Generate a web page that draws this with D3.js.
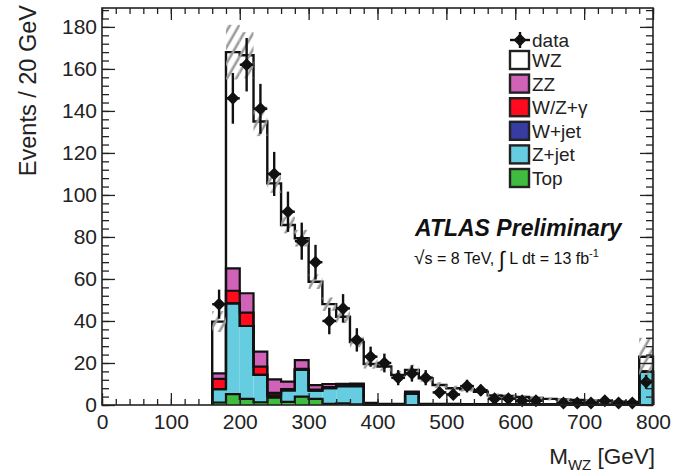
<!DOCTYPE html>
<html><head><meta charset="utf-8">
<script src="https://cdn.jsdelivr.net/npm/d3@7"></script>
<style>
body{margin:0;background:#fff;}
svg{display:block;font-family:"Liberation Sans",Arial,Helvetica,sans-serif;}
</style>
</head><body>
<svg id="c" width="698" height="476"></svg>
<script>
// ---- data (bins of 20 GeV, lower edges 160 ... 780; last bin includes overflow) ----
const binLow = [160,180,200,220,240,260,280,300,320,340,360,380,400,420,440,460,
                480,500,520,540,560,580,600,620,640,660,680,700,720,740,760,780];
const binWidth = 20;
const dataCounts = [48,146,162,141,110,92,78,68,40,46,31,23,20,13,15,13,
                    6,5,9,7,3,3,2,2,0,1,1,1,2,1,1,11];
const topBkg  = [1.2,5.2,2.9,1.3,3.5,1.5,4.0,2.9,0.5,0.8,0.3,0,0,0,0,0,
                 0,0,0,0,0,0,0,0,0,0,0,0,0,0,0,0];
const zjet    = [6.4,43.2,34.7,13.0,1.0,5.5,12.7,3.9,7.5,8.0,8.5,0.5,0.3,0.3,5.4,0.2,
                 0.3,0.3,0.2,0.2,0.2,0.2,0.2,0.2,0.2,0.2,0.2,0.1,0.1,0.1,0.1,15.9];
const wjet    = [0,0,0,0,0,0,0,0,0,1.0,1.0,0,0,0,0,0,
                 0,0,0,0,0,0,0,0,0,0,0,0,0,0,0,0];
const wzgamma = [4.8,6.0,6.4,4.0,1.3,0.6,0.5,0.5,0.5,0,0,0,0,0,0,0,
                 0,0,0,0,0,0,0,0,0,0,0,0,0,0,0,0];
const zz      = [2.7,10.6,9.2,7.1,6.4,3.5,4.2,2.2,1.5,0.3,0.4,0.5,0.3,0.3,1.0,0.3,
                 0.2,0.2,0.2,0.2,0.2,0.1,0.1,0.1,0.1,0.1,0.1,0.1,0.1,0.1,0.1,0];
const wz      = [24.6,103,113.3,109.6,93.3,74.6,58.0,49.2,38.0,31.9,19.8,18.5,17.7,13.7,10.3,12.2,
                 9.0,7.5,7.1,5.9,4.2,4.0,3.5,3.0,2.6,2.3,2.1,1.9,1.7,1.5,1.3,7.1];
const sysUnc  = [5,13,11,7,4.5,4,4,3.5,3.2,3,2.5,2.2,2,1.8,2.5,1.6,
                 1.4,1.2,1.1,1,0.9,0.9,0.8,0.8,0.7,0.7,0.6,0.6,0.6,0.5,0.5,9];
const seriesKeys   = ["Top","Zjet","Wjet","WZgamma","ZZ","WZ"];
const seriesColors = ["#3fbb3f","#66cde0","#373ca3","#ff0a1e","#d062b8","#ffffff"];
const legendLabels = ["data","WZ","ZZ","W/Z+\u03b3","W+jet","Z+jet","Top"];
const legendKeys   = [null,"WZ","ZZ","WZgamma","Wjet","Zjet","Top"];
const xTicks = [0,100,200,300,400,500,600,700,800];
const yTicks = [0,20,40,60,80,100,120,140,160,180];

// ---- build table ----
const table = binLow.map((b,i)=>({lo:b, Top:topBkg[i], Zjet:zjet[i], Wjet:wjet[i],
  WZgamma:wzgamma[i], ZZ:zz[i], WZ:wz[i], unc:sysUnc[i], n:dataCounts[i]}));
const color = d3.scaleOrdinal().domain(seriesKeys).range(seriesColors);

const svg = d3.select("#c");
const L=102, R=653, T=8, B=405;
const x = d3.scaleLinear().domain([0,800]).range([L,R]);
const y = d3.scaleLinear().domain([0,189]).range([B,T]);

svg.append("defs").append("pattern")
  .attr("id","hatch").attr("patternUnits","userSpaceOnUse")
  .attr("width",8).attr("height",8).attr("patternTransform","rotate(30)")
  .append("rect").attr("x",2.5).attr("y",0).attr("width",2.6).attr("height",8)
  .attr("fill","#9c9c9c");

const stack = d3.stack().keys(seriesKeys)(table);

// fills
const gFill = svg.append("g");
stack.forEach(layer=>{
  gFill.selectAll(null).data(layer).join("rect")
    .attr("x",d=>x(d.data.lo)).attr("width",d=>x(d.data.lo+binWidth)-x(d.data.lo))
    .attr("y",d=>y(d[1])).attr("height",d=>Math.max(0,y(d[0])-y(d[1])))
    .attr("fill",color(layer.key));
});
// outlines (step histograms)
function stepPath(layer){
  let p = `M${x(binLow[0])},${y(0)}`;
  layer.forEach(d=>{
    p += `L${x(d.data.lo)},${y(d[1])}L${x(d.data.lo+binWidth)},${y(d[1])}`;
  });
  p += `L${x(binLow[binLow.length-1]+binWidth)},${y(0)}`;
  return p;
}
stack.forEach((layer,i)=>{
  svg.append("path").attr("d",stepPath(layer)).attr("fill","none")
    .attr("stroke","#111").attr("stroke-width", layer.key==="WZ"?2.4:2.2)
    .attr("stroke-linejoin","miter");
});

// hatched uncertainty band around the total
const topLayer = stack[stack.length-1];
svg.append("g").selectAll("rect").data(topLayer).join("rect")
  .attr("x",d=>x(d.data.lo)).attr("width",d=>x(d.data.lo+binWidth)-x(d.data.lo))
  .attr("y",d=>y(d[1]+d.data.unc))
  .attr("height",d=>y(Math.max(0,d[1]-d.data.unc))-y(d[1]+d.data.unc))
  .attr("fill","url(#hatch)");

// data points
const gData = svg.append("g");
const pts = table.filter(d=>d.n>0);
gData.selectAll("line.h").data(pts).join("line")
  .attr("x1",d=>x(d.lo)).attr("x2",d=>x(d.lo+binWidth))
  .attr("y1",d=>y(d.n)).attr("y2",d=>y(d.n))
  .attr("stroke","#111").attr("stroke-width",2.4);
gData.selectAll("line.v").data(pts).join("line")
  .attr("x1",d=>x(d.lo+binWidth/2)).attr("x2",d=>x(d.lo+binWidth/2))
  .attr("y1",d=>y(d.n+Math.sqrt(d.n))).attr("y2",d=>y(Math.max(0,d.n-Math.sqrt(d.n))))
  .attr("stroke","#111").attr("stroke-width",2.4);
const diamond = "M0,-6.5L6.5,0L0,6.5L-6.5,0Z";
gData.selectAll("path").data(pts).join("path")
  .attr("d",diamond)
  .attr("transform",d=>`translate(${x(d.lo+binWidth/2)},${y(d.n)})`)
  .attr("fill","#111");

// axes with inward ticks
const xMinor = d3.range(0,801,20), yMinor = d3.range(0,189,4);
function axisG(){ return svg.append("g").attr("font-family","Liberation Sans, Arial, sans-serif"); }
const ax = axisG().attr("transform",`translate(0,${B})`)
  .call(d3.axisBottom(x).tickValues(xTicks).tickSize(-12).tickPadding(9).tickFormat(d3.format("d")));
axisG().attr("transform",`translate(0,${B})`)
  .call(d3.axisBottom(x).tickValues(xMinor).tickSize(-6).tickFormat(""));
axisG().attr("transform",`translate(0,${T})`)
  .call(d3.axisTop(x).tickValues(xTicks).tickSize(-12).tickFormat(""));
axisG().attr("transform",`translate(0,${T})`)
  .call(d3.axisTop(x).tickValues(xMinor).tickSize(-6).tickFormat(""));
const ay = axisG().attr("transform",`translate(${L},0)`)
  .call(d3.axisLeft(y).tickValues(yTicks).tickSize(-13).tickPadding(5).tickFormat(d3.format("d")));
axisG().attr("transform",`translate(${L},0)`)
  .call(d3.axisLeft(y).tickValues(yMinor).tickSize(-7).tickFormat(""));
axisG().attr("transform",`translate(${R},0)`)
  .call(d3.axisRight(y).tickValues(yTicks).tickSize(-13).tickFormat(""));
axisG().attr("transform",`translate(${R},0)`)
  .call(d3.axisRight(y).tickValues(yMinor).tickSize(-7).tickFormat(""));
svg.selectAll(".domain").remove();
svg.selectAll(".tick line").attr("stroke","#222").attr("stroke-width",1.3);
ax.selectAll("text").attr("font-size",21).attr("fill","#222");
ay.selectAll("text").attr("font-size",21).attr("fill","#222");
svg.append("rect").attr("x",L).attr("y",T).attr("width",R-L).attr("height",B-T)
  .attr("fill","none").attr("stroke","#222").attr("stroke-width",1.6);

// axis titles
svg.append("text").attr("transform","translate(36,5) rotate(-90)")
  .attr("text-anchor","end").attr("font-size",23.5).attr("fill","#222")
  .text("Events / 20 GeV");
const xt = svg.append("text").attr("x",655).attr("y",464).attr("text-anchor","end")
  .attr("font-size",22.5).attr("fill","#222");
xt.append("tspan").text("M");
xt.append("tspan").attr("font-size",15).attr("dy",6).text("WZ");
xt.append("tspan").attr("dy",-6).text(" [GeV]");

// legend
const lg = svg.append("g").attr("transform","translate(509,40)");
legendLabels.forEach((lab,i)=>{
  const g = lg.append("g").attr("transform",`translate(0,${i===0?0:20+(i-1)*23.6})`);
  if(i===0){
    g.append("line").attr("x1",1).attr("x2",21).attr("y1",0).attr("y2",0)
      .attr("stroke","#111").attr("stroke-width",2.4);
    g.append("line").attr("x1",11).attr("x2",11).attr("y1",-8).attr("y2",8)
      .attr("stroke","#111").attr("stroke-width",2.4);
    g.append("path").attr("d",diamond).attr("transform","translate(11,0)").attr("fill","#111");
  } else {
    g.append("rect").attr("x",1).attr("y",-9).attr("width",19).attr("height",18)
      .attr("fill",color(legendKeys[i])).attr("stroke","#222").attr("stroke-width",2.4);
  }
  g.append("text").attr("x",23).attr("y",7).attr("font-size",19).attr("fill","#222").text(lab);
});

// ATLAS labels
svg.append("text").attr("x",415).attr("y",236).attr("font-size",23)
  .attr("font-weight","bold").attr("font-style","italic").attr("fill","#111")
  .text("ATLAS Preliminary");
const en = svg.append("text").attr("x",414).attr("y",264).attr("font-size",16).attr("fill","#111");
en.append("tspan").attr("font-size",19).text("\u221A");
en.append("tspan").text("s = 8 TeV, ");
en.append("tspan").attr("font-size",22).attr("dy",3).text("\u222B");
en.append("tspan").attr("dy",-3).text(" L dt = 13 fb");
en.append("tspan").attr("font-size",11).attr("dy",-7).text("-1");
</script>
</body></html>
